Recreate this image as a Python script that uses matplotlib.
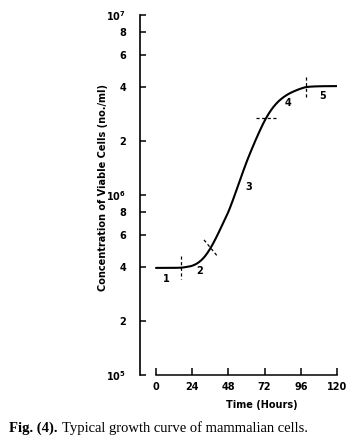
import numpy as np
import matplotlib
matplotlib.use("Agg")
import matplotlib.pyplot as plt
from matplotlib.ticker import FixedLocator, FixedFormatter, NullLocator

# ---- data ----
time_h = [0, 8, 16, 20, 24, 28, 32, 36, 40, 44, 48, 52, 56, 60, 64, 68, 72,
          76, 80, 84, 88, 92, 96, 100, 108, 120]
log_conc = [5.595, 5.595, 5.596, 5.600, 5.607, 5.624, 5.655, 5.703, 5.765,
            5.835, 5.907, 5.995, 6.090, 6.182, 6.265, 6.342, 6.412,
            6.468, 6.510, 6.540, 6.562, 6.578, 6.591, 6.600, 6.604, 6.605]
conc = [10 ** v for v in log_conc]

phase_labels = ["1", "2", "3", "4", "5"]
phase_label_t = [6.6, 29.2, 61.2, 87.7, 110.6]
phase_label_c = [3.42e5, 3.80e5, 1.11e6, 3.23e6, 3.54e6]

x_ticks = [0, 24, 48, 72, 96, 120]
y_ticks = [1e5, 2e5, 4e5, 6e5, 8e5, 1e6, 2e6, 4e6, 6e6, 8e6, 1e7]
y_tick_labels = [r"$\mathbf{10^{5}}$", "2", "4", "6", "8", r"$\mathbf{10^{6}}$",
                 "2", "4", "6", "8", r"$\mathbf{10^{7}}$"]


def smooth(xs, ys, n=12):
    """Catmull-Rom curve through the read points (for drawing only)."""
    xs = np.asarray(xs, float); ys = np.asarray(ys, float)
    P = np.column_stack([xs, ys])
    P = np.vstack([P[0], P, P[-1]])
    out = []
    for i in range(1, len(P) - 2):
        p0, p1, p2, p3 = P[i - 1], P[i], P[i + 1], P[i + 2]
        for s in np.linspace(0, 1, n, endpoint=False):
            s2, s3 = s * s, s * s * s
            out.append(0.5 * ((2 * p1) + (-p0 + p2) * s +
                              (2 * p0 - 5 * p1 + 4 * p2 - p3) * s2 +
                              (-p0 + 3 * p1 - 3 * p2 + p3) * s3))
    out.append(P[-2])
    out = np.array(out)
    return out[:, 0], out[:, 1]


W, H = 358, 443
fig = plt.figure(figsize=(W / 100, H / 100), dpi=100)
ax = fig.add_axes([140 / W, 1 - 375 / H, (337 - 140) / W, (375 - 15) / H])

sx, sy = smooth(time_h, log_conc)
ax.plot(sx, 10 ** sy, color="black", lw=1.5, solid_capstyle="round")

ax.set_yscale("log")
ax.set_xlim(-10.6, 120)
ax.set_ylim(1e5, 1e7)

for s in ("top", "right"):
    ax.spines[s].set_visible(False)
ax.spines["left"].set_linewidth(1.2)
ax.spines["bottom"].set_linewidth(1.1)
ax.spines["bottom"].set_bounds(0, 120)

ax.yaxis.set_major_locator(FixedLocator(y_ticks))
ax.yaxis.set_major_formatter(FixedFormatter(y_tick_labels))
ax.yaxis.set_minor_locator(NullLocator())
ax.set_xticks(x_ticks)
ax.set_xticklabels([str(v) for v in x_ticks])

ax.tick_params(axis="y", direction="in", length=4, width=1.1, pad=10,
               labelsize=7)
ax.tick_params(axis="x", direction="in", length=5, width=1.1, pad=5,
               labelsize=7)
for lab in ax.get_xticklabels() + ax.get_yticklabels():
    lab.set_fontweight("bold")

ax.set_ylabel("Concentration of Viable Cells (no./ml)", fontsize=7,
              fontweight="bold")
ax.yaxis.set_label_coords((108 - 140) / (337 - 140), (375 - 188) / 360)
ax.set_xlabel("Time (Hours)", fontsize=7, fontweight="bold")
ax.xaxis.set_label_coords((262 - 140) / (337 - 140), -(400 - 375) / 360)

# phase boundary markers (dashed)
dash = dict(color="black", lw=0.9, linestyle=(0, (2.5, 2)))
def lc(t):
    return 10 ** np.interp(t, time_h, log_conc)
px_t = 24 / 36.2      # hours per pixel
px_l = 1 / 180.0      # decades per pixel
t1 = 16.4
ax.plot([t1, t1], [lc(t1) * 10 ** (11.5 * px_l), lc(t1) / 10 ** (11.5 * px_l)], **dash)
t2 = 35.8
ax.plot([t2 - 6 * px_t, t2 + 8 * px_t],
        [lc(t2) * 10 ** (9 * px_l), lc(t2) / 10 ** (8 * px_l)], **dash)
t3 = 73.2
ax.plot([t3 - 10 * px_t, t3 + 10.5 * px_t], [lc(t3), lc(t3)], **dash)
t4 = 99.4
ax.plot([t4, t4], [lc(t4) * 10 ** (10.5 * px_l), lc(t4) / 10 ** (10.5 * px_l)], **dash)

for lab, t, c in zip(phase_labels, phase_label_t, phase_label_c):
    ax.text(t, c, lab, fontsize=7, fontweight="bold", ha="center", va="center")

# caption
cap1 = fig.text(9 / W, 1 - 428 / H, "Fig. (4).", fontsize=10.5, fontweight="bold",
                family="Liberation Serif", va="center", ha="left")
fig.canvas.draw()
bb = cap1.get_window_extent()
fig.text((bb.x1 + 4) / W, 1 - 428 / H, "Typical growth curve of mammalian cells.",
         fontsize=10.5, family="Liberation Serif", va="center", ha="left")

fig.savefig("out.png", dpi=100)
